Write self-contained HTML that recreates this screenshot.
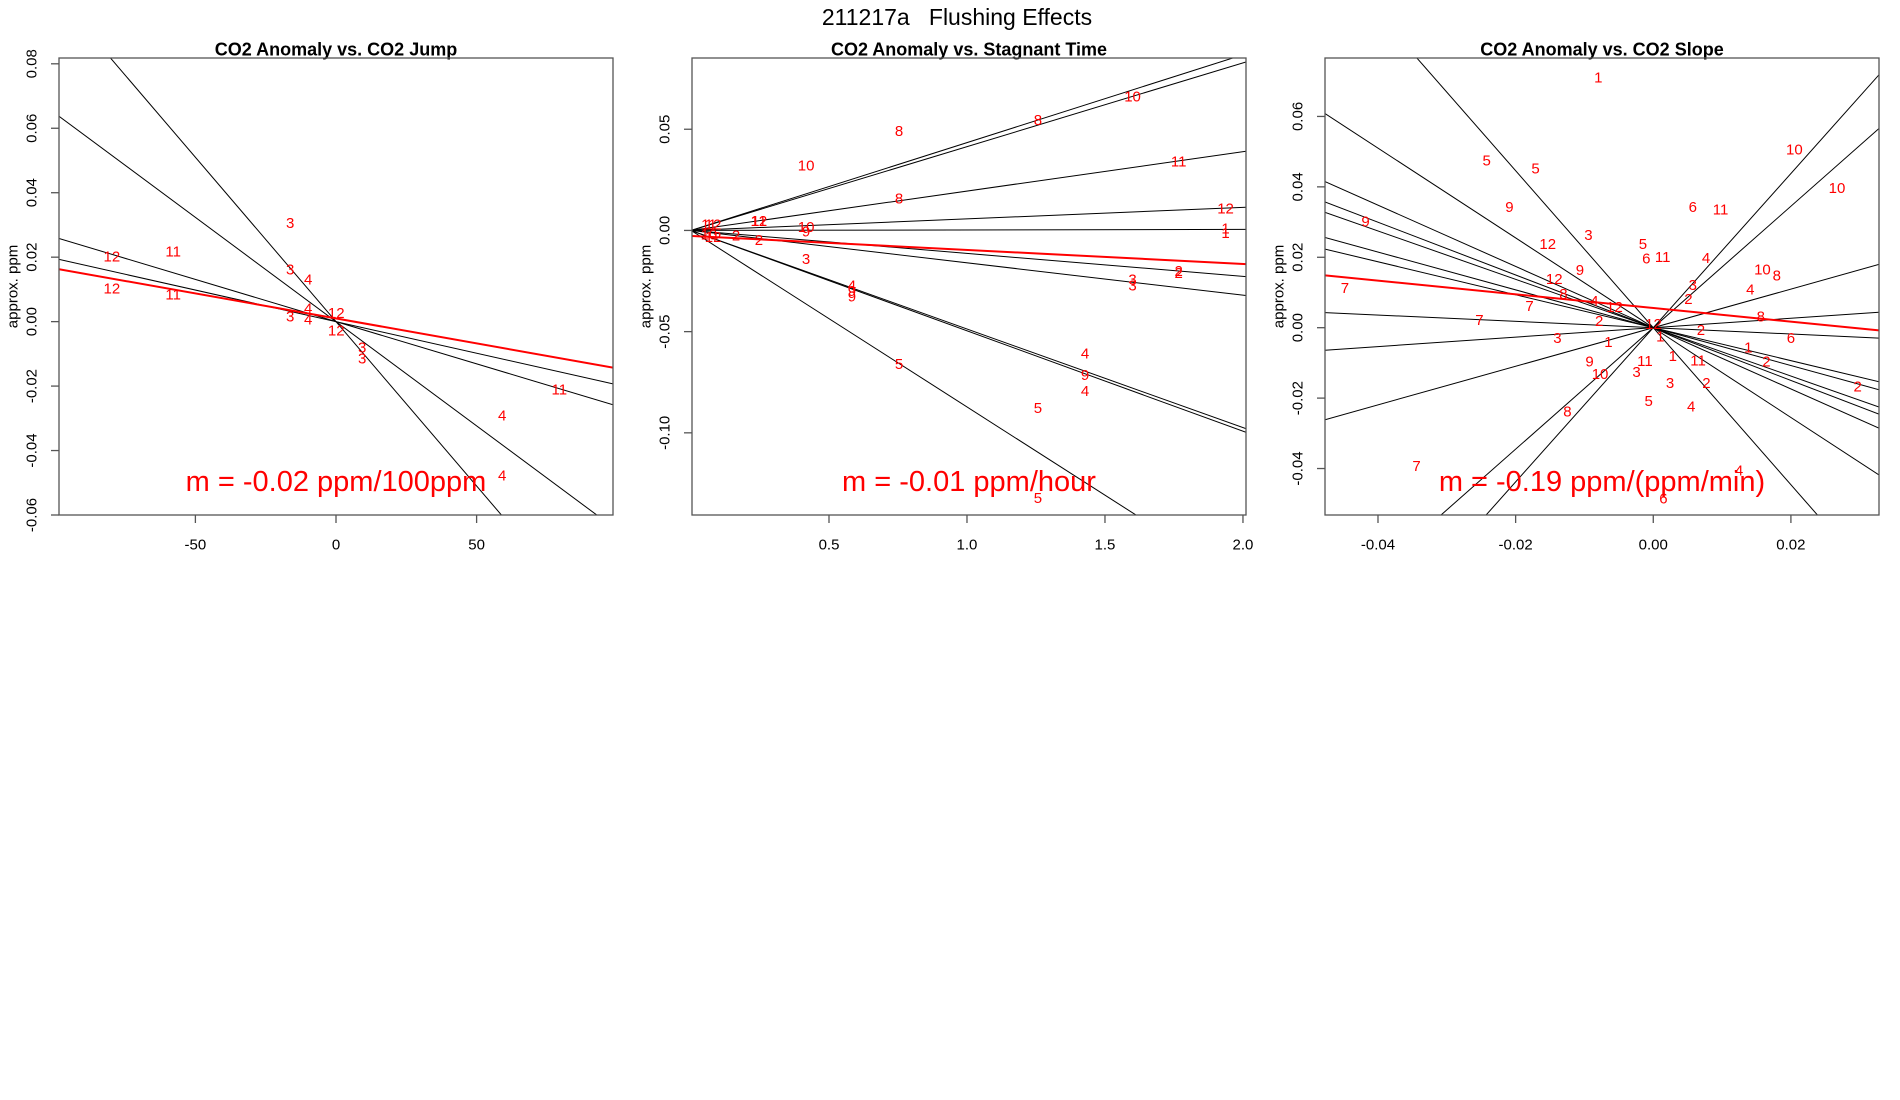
<!DOCTYPE html>
<html><head><meta charset="utf-8"><style>
html,body{margin:0;padding:0;background:#fff;}
svg{display:block;font-family:"Liberation Sans",sans-serif;}
</style></head><body>
<svg id="chart" width="1900" height="1100" viewBox="0 0 1900 1100" xmlns="http://www.w3.org/2000/svg">
<text x="957" y="17" font-size="23" text-anchor="middle" dy="0.35em" xml:space="preserve">211217a   Flushing Effects</text>
</svg>
<script>
// Panel 1: CO2 Anomaly vs. CO2 Jump
const p1Labels = ["3","12","11","3","4","12","11","4","3","4","12","12","3","3","11","4","4"];
const p1X = [-16.3,-79.7,-57.9,-16.3,-9.9,-79.7,-57.9,-9.9,-16.3,-9.9,0.1,0.1,9.3,9.3,79.4,59.1,59.1];
const p1Y = [0.0307,0.0203,0.0219,0.0163,0.0132,0.0104,0.0085,0.0042,0.0017,0.0008,0.0027,-0.0027,-0.0080,-0.0114,-0.0210,-0.029,-0.0476];
const p1Slopes = [-0.00102,-0.000647,-0.000262,-0.000196];
const p1Fit = [0.001,-0.000155];
const p1XTicks = [-50,0,50];
const p1XTickLabels = ["-50","0","50"];
const p1YTicks = [0.08,0.06,0.04,0.02,0,-0.02,-0.04,-0.06];
const p1YTickLabels = ["0.08","0.06","0.04","0.02","0.00","-0.02","-0.04","-0.06"];

// Panel 2: CO2 Anomaly vs. Stagnant Time
const p2Labels = ["10","8","8","10","11","8","12","1","1","11","12","10","12","2","11","12","2","10","9","3","4","9","9","5","4","9","4","5","5","3","3","2","2"];
const p2X = [0.417,0.754,1.257,1.60,1.767,0.754,1.937,1.937,1.937,0.065,0.08,0.065,0.08,0.163,0.246,0.246,0.246,0.417,0.417,0.417,0.583,0.583,0.583,0.754,1.428,1.428,1.428,1.257,1.257,1.60,1.60,1.767,1.767];
const p2Y = [0.0321,0.0492,0.0546,0.0663,0.0343,0.0160,0.0109,0.0010,-0.0011,0.003,0.003,-0.002,-0.003,-0.0025,0.0047,0.0047,-0.0047,0.0017,-0.0005,-0.0141,-0.0272,-0.0299,-0.0324,-0.0658,-0.0608,-0.0712,-0.0793,-0.0877,-0.1322,-0.0240,-0.0272,-0.020,-0.021];
const p2Slopes = [0.0434,0.0414,0.01945,0.0057,0.00025,-0.01135,-0.0160,-0.0487,-0.0496,-0.0872];
const p2Fit = [-0.0027,-0.00693];
const p2XTicks = [0.5,1.0,1.5,2.0];
const p2XTickLabels = ["0.5","1.0","1.5","2.0"];
const p2YTicks = [0.05,0,-0.05,-0.10];
const p2YTickLabels = ["0.05","0.00","-0.05","-0.10"];

// Panel 3: CO2 Anomaly vs. CO2 Slope
const p3Labels = ["1","5","5","10","10","9","9","6","11","3","12","5","6","11","4","9","10","8","12","3","4","7","8","2","7","4","12","8","7","2","12","2","1","3","6","1","1","1","11","11","2","9","3","10","3","2","2","5","4","8","7","4","6"];
const p3X = [-0.00798,-0.0242,-0.0171,0.0205,0.0267,-0.0209,-0.0418,0.00575,0.00978,-0.00943,-0.01533,-0.0015,-0.00102,0.00137,0.00767,-0.01065,0.01586,0.01795,-0.01439,0.00575,0.0141,-0.0448,-0.01305,0.0051,-0.01797,-0.00856,-0.00564,0.01562,-0.02526,-0.00786,0.00003,0.00692,0.00102,-0.01392,0.0200,-0.00651,0.01381,0.00283,-0.00121,0.00651,0.01644,-0.00926,-0.00243,-0.00773,0.00243,0.00773,0.0297,-0.00067,0.00551,-0.01247,-0.0344,0.01247,0.00148];
const p3Y = [0.0712,0.0476,0.0453,0.0507,0.0398,0.0344,0.0302,0.0344,0.0337,0.0264,0.0239,0.0239,0.0197,0.0201,0.0199,0.0164,0.0166,0.0149,0.0139,0.0122,0.0109,0.0114,0.0096,0.0082,0.0063,0.0076,0.0060,0.0032,0.0022,0.0020,0.0011,-0.0006,-0.0025,-0.0028,-0.0028,-0.0040,-0.0056,-0.0080,-0.0094,-0.0092,-0.0095,-0.0095,-0.0125,-0.0131,-0.0156,-0.0156,-0.0166,-0.0208,-0.0223,-0.0237,-0.0392,-0.0405,-0.0485];
const p3Slopes = [-2.23,-1.275,-0.87,-0.749,-0.687,-0.537,-0.468,-0.09,0.134,0.548,2.19,1.725];
const p3Fit = [0.0056,-0.194];
const p3XTicks = [-0.04,-0.02,0,0.02];
const p3XTickLabels = ["-0.04","-0.02","0.00","0.02"];
const p3YTicks = [0.06,0.04,0.02,0,-0.02,-0.04];
const p3YTickLabels = ["0.06","0.04","0.02","0.00","-0.02","-0.04"];

const NS = "http://www.w3.org/2000/svg";
const svg = document.getElementById("chart");
function mk(tag, attrs, parent){
  const e = document.createElementNS(NS, tag);
  for (const k in attrs) e.setAttribute(k, attrs[k]);
  (parent||svg).appendChild(e);
  return e;
}

const panels = [
  {id:"jump", title:"CO2 Anomaly vs. CO2 Jump", slopeText:"m = -0.02 ppm/100ppm", L:59, R:613, T:58, B:515,
   xlim:[-98.5,98.5], ylim:[-0.06,0.0818], labels:p1Labels, xs:p1X, ys:p1Y, slopes:p1Slopes, fit:p1Fit,
   xt:p1XTicks, xtl:p1XTickLabels, yt:p1YTicks, ytl:p1YTickLabels},
  {id:"stagnant", title:"CO2 Anomaly vs. Stagnant Time", slopeText:"m = -0.01 ppm/hour", L:692, R:1246, T:58, B:515,
   xlim:[0.0036,2.011], ylim:[-0.1406,0.0852], labels:p2Labels, xs:p2X, ys:p2Y, slopes:p2Slopes, fit:p2Fit,
   xt:p2XTicks, xtl:p2XTickLabels, yt:p2YTicks, ytl:p2YTickLabels},
  {id:"slope", title:"CO2 Anomaly vs. CO2 Slope", slopeText:"m = -0.19 ppm/(ppm/min)", L:1325, R:1879, T:58, B:515,
   xlim:[-0.0477,0.0328], ylim:[-0.0532,0.0766], labels:p3Labels, xs:p3X, ys:p3Y, slopes:p3Slopes, fit:p3Fit,
   xt:p3XTicks, xtl:p3XTickLabels, yt:p3YTicks, ytl:p3YTickLabels}
];

panels.forEach(function(p){
  const sx = v => p.L + (v - p.xlim[0]) / (p.xlim[1]-p.xlim[0]) * (p.R - p.L);
  const sy = v => p.B - (v - p.ylim[0]) / (p.ylim[1]-p.ylim[0]) * (p.B - p.T);
  const g = mk("g", {});
  
  
  const cp = mk("clipPath", {id:"clip-"+p.id}, g);
  mk("rect", {x:p.L, y:p.T, width:p.R-p.L, height:p.B-p.T}, cp);

  const t = mk("text", {x:(p.L+p.R)/2, y:49, "font-size":18, "font-weight":"bold", "text-anchor":"middle", dy:"0.35em"}, g);
  
  
  t.textContent = p.title;

  const yl = mk("text", {x:0, y:0, "font-size":15, "text-anchor":"middle", dy:"0.35em",
    transform:"translate(" + (p.L-47) + "," + ((p.T+p.B)/2) + ") rotate(-90)"}, g);
  
  
  yl.textContent = "approx. ppm";

  const lines = mk("g", {"clip-path":"url(#clip-"+p.id+")"}, g);
  
  
  p.slopes.forEach(function(m, i){
    const l = mk("line", {x1:sx(p.xlim[0]), y1:sy(m*p.xlim[0]), x2:sx(p.xlim[1]), y2:sy(m*p.xlim[1]), stroke:"#000", "stroke-width":1}, lines);
    
    
  });
  const rl = mk("line", {x1:sx(p.xlim[0]), y1:sy(p.fit[0]+p.fit[1]*p.xlim[0]), x2:sx(p.xlim[1]), y2:sy(p.fit[0]+p.fit[1]*p.xlim[1]), stroke:"#f00", "stroke-width":2}, lines);
  
  

  p.labels.forEach(function(lab, i){
    const tx = mk("text", {x:sx(p.xs[i]), y:sy(p.ys[i]), "font-size":15, fill:"#f00", "text-anchor":"middle", dy:"0.35em"}, g);
    
    
    tx.textContent = lab;
  });

  const st = mk("text", {x:(p.L+p.R)/2, y:491, "font-size":29, fill:"#f00", "text-anchor":"middle"}, g);
  
  
  st.textContent = p.slopeText;

  const box = mk("rect", {x:p.L, y:p.T, width:p.R-p.L, height:p.B-p.T, fill:"none", stroke:"#555", "stroke-width":1.3}, g);
  
  

  const xa = mk("g", {}, g);
  
  
  p.xt.forEach(function(v, i){
    const X = sx(v);
    mk("line", {x1:X, y1:p.B, x2:X, y2:p.B+8, stroke:"#555", "stroke-width":1.3}, xa);
    const lt = mk("text", {x:X, y:544, "font-size":15, "text-anchor":"middle", dy:"0.35em"}, xa);
    
    
    lt.textContent = p.xtl[i];
  });
  const ya = mk("g", {}, g);
  
  
  p.yt.forEach(function(v, i){
    const Y = sy(v);
    mk("line", {x1:p.L-8, y1:Y, x2:p.L, y2:Y, stroke:"#555", "stroke-width":1.3}, ya);
    const lt = mk("text", {x:0, y:0, "font-size":15, "text-anchor":"middle", dy:"0.35em",
      transform:"translate(" + (p.L-28) + "," + Y + ") rotate(-90)"}, ya);
    
    
    lt.textContent = p.ytl[i];
  });
});
</script>
</body></html>
